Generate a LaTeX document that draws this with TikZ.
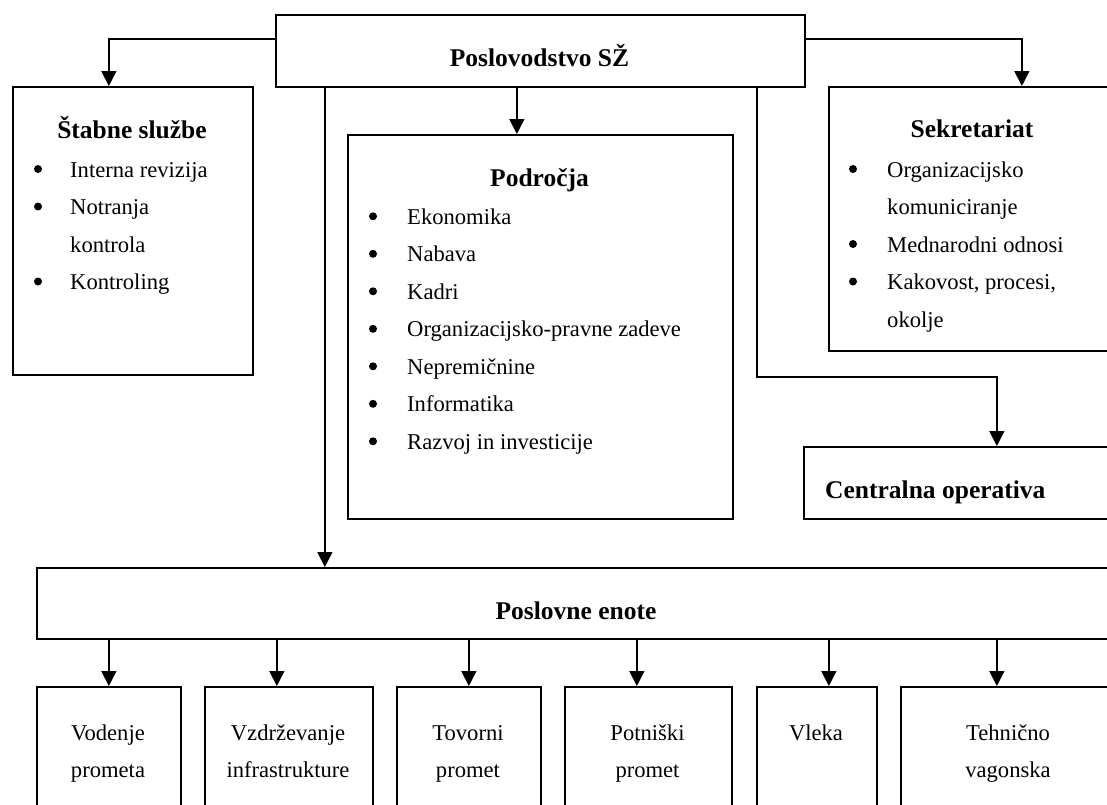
\documentclass[tikz,border=0pt]{standalone}
\usepackage{fontspec}
\setmainfont{Liberation Serif}
\usetikzlibrary{arrows.meta}
\begin{document}
\begin{tikzpicture}[x=1pt,y=-1pt,
  box/.style={draw, line width=1.7pt, inner sep=0pt, anchor=north west},
  arr/.style={line width=1.7pt, -{Triangle[width=15pt,length=15pt]}},
  titletxt/.style={font=\fontsize{25.5}{30}\selectfont\bfseries, inner sep=0pt},
  bodytxt/.style={font=\fontsize{22.6}{37.5}\selectfont, inner sep=0pt, anchor=base west},
  ctrtxt/.style={font=\fontsize{22.6}{37.5}\selectfont, inner sep=0pt, anchor=base},
  dot/.style={circle, fill, draw=none, inner sep=0pt, minimum size=8pt},
]
\useasboundingbox (0,0) rectangle (1107,804);
\clip (0,0) rectangle (1107,804);

% boxes
\node[box, minimum width=529pt, minimum height=72pt] (top) at (275,14) {};
\node[box, minimum width=240pt, minimum height=288pt] (stab) at (12,86) {};
\node[box, minimum width=385pt, minimum height=384pt] (pod) at (347,134) {};
\node[box, minimum width=288pt, minimum height=264pt] (sek) at (828,86) {};
\node[box, minimum width=313pt, minimum height=72pt] (cen) at (803,446) {};
\node[box, minimum width=1080pt, minimum height=71pt] (pe) at (36,567) {};
\node[box, minimum width=144pt, minimum height=150pt] (b1) at (36,686) {};
\node[box, minimum width=168pt, minimum height=150pt] (b2) at (204,686) {};
\node[box, minimum width=144pt, minimum height=150pt] (b3) at (396,686) {};
\node[box, minimum width=167pt, minimum height=150pt] (b4) at (564,686) {};
\node[box, minimum width=120pt, minimum height=150pt] (b5) at (756,686) {};
\node[box, minimum width=216pt, minimum height=150pt] (b6) at (900,686) {};

% connectors
\draw[arr] ([yshift=12pt]top.west) -| ([xshift=-24pt]stab.north);
\draw[arr] ([yshift=12pt]top.east) -| ([xshift=49pt]sek.north);
\draw[arr] ([xshift=-23.5pt]top.south) -- ([xshift=-23.5pt]pod.north);
\coordinate (tL) at ([xshift=-215.5pt]top.south);
\draw[arr] (tL) -- (tL |- pe.north);
\coordinate (tR) at ([xshift=216.5pt]top.south);
\coordinate (cenIn) at ([xshift=36.5pt]cen.north);
\draw[arr] (tR) |- ([yshift=69pt]cenIn) -- (cenIn);
\coordinate (i1) at (b1.north);
\coordinate (i2) at ([xshift=-12pt]b2.north);
\coordinate (i3) at (b3.north);
\coordinate (i4) at ([xshift=-11.5pt]b4.north);
\coordinate (i5) at ([xshift=12pt]b5.north);
\coordinate (i6) at ([xshift=-12pt]b6.north);
\foreach \i in {i1,i2,i3,i4,i5,i6} \draw[arr] (\i |- pe.south) -- (\i);

% titles
\node[titletxt, anchor=base] at (539.5,66.5) {Poslovodstvo SŽ};
\node[titletxt, anchor=base] at (132,138) {Štabne službe};
\node[titletxt, anchor=base] at (539.5,186) {Področja};
\node[titletxt, anchor=base] at (972,137.5) {Sekretariat};
\node[titletxt, anchor=base west] at (825,498.5) {Centralna operativa};
\node[titletxt, anchor=base] at (576,619) {Poslovne enote};

% Štabne službe list
\node[dot] at (38,169) {};
\node[bodytxt] at (70,177) {Interna revizija};
\node[dot] at (38,206.5) {};
\node[bodytxt] at (70,214.5) {Notranja};
\node[bodytxt] at (70,252) {kontrola};
\node[dot] at (38,281.5) {};
\node[bodytxt] at (70,289.5) {Kontroling};

% Področja list
\foreach \t [count=\k from 0] in {Ekonomika, Nabava, Kadri, Organizacijsko-pravne zadeve, Nepremičnine, Informatika, Razvoj in investicije} {
  \node[dot] at (373,216.3+37.5*\k) {};
  \node[bodytxt] at (407,224.3+37.5*\k) {\t};
}

% Sekretariat list
\node[dot] at (853,169) {};
\node[bodytxt] at (887,177) {Organizacijsko};
\node[bodytxt] at (887,214.5) {komuniciranje};
\node[dot] at (853,244) {};
\node[bodytxt] at (887,252) {Mednarodni odnosi};
\node[dot] at (853,281.5) {};
\node[bodytxt] at (887,289.5) {Kakovost, procesi,};
\node[bodytxt] at (887,327) {okolje};

% bottom boxes text
\node[ctrtxt] at (108,740) {Vodenje};
\node[ctrtxt] at (108,777) {prometa};
\node[ctrtxt] at (288,740) {Vzdrževanje};
\node[ctrtxt] at (288,777) {infrastrukture};
\node[ctrtxt] at (468,740) {Tovorni};
\node[ctrtxt] at (468,777) {promet};
\node[ctrtxt] at (647.5,740) {Potniški};
\node[ctrtxt] at (647.5,777) {promet};
\node[ctrtxt] at (816,740) {Vleka};
\node[ctrtxt] at (1008,740) {Tehnično};
\node[ctrtxt] at (1008,777) {vagonska};
\end{tikzpicture}
\end{document}
